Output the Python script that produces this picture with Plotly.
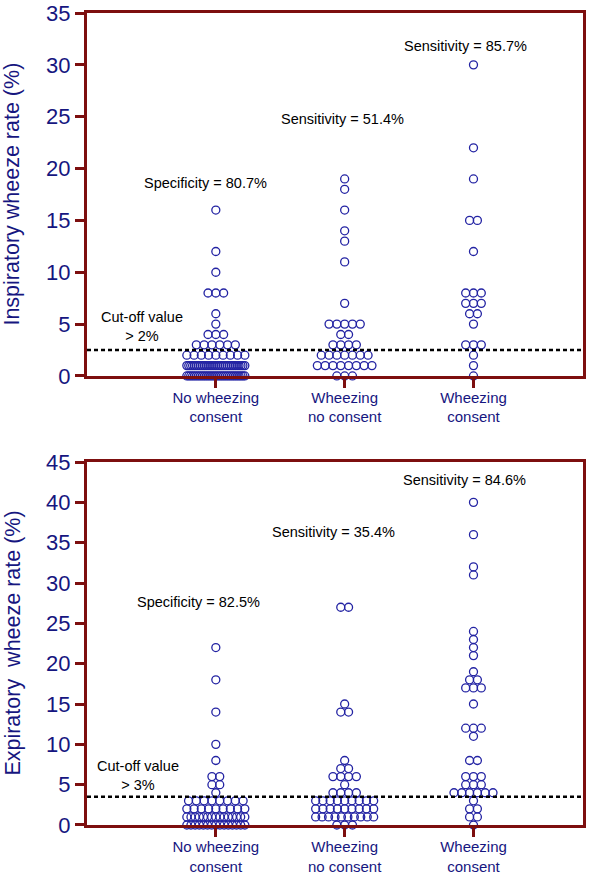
import plotly.graph_objects as go
from plotly.subplots import make_subplots

# categories
groups = ['No wheezing<br>consent', 'Wheezing<br>no consent', 'Wheezing<br>consent']

# inspiratory wheeze rate (%): distinct levels and how many dots sit on each
insp_levels_1 = [16, 12, 10, 8, 6, 5, 4, 3, 2, 1, 0]
insp_counts_1 = [1, 1, 1, 3, 1, 1, 3, 6, 9, 31, 31]
insp_levels_2 = [19, 18, 16, 14, 13, 11, 7, 5, 4, 3, 2, 1, 0]
insp_counts_2 = [1, 1, 1, 1, 1, 1, 1, 5, 2, 4, 7, 8, 3]
insp_levels_3 = [30, 22, 19, 15, 12, 8, 7, 6, 5, 3, 2, 1, 0]
insp_counts_3 = [1, 1, 1, 2, 1, 3, 3, 2, 1, 3, 1, 1, 1]

# expiratory wheeze rate (%)
exp_levels_1 = [22, 18, 14, 10, 8, 6, 5, 4, 3, 2, 1, 0]
exp_counts_1 = [1, 1, 1, 1, 1, 2, 2, 1, 8, 9, 15, 15]
exp_levels_2 = [27, 15, 14, 8, 7, 6, 5, 4, 3, 2, 1, 0]
exp_counts_2 = [2, 1, 2, 1, 2, 4, 1, 4, 9, 9, 10, 3]
exp_levels_3 = [40, 36, 32, 31, 24, 23, 22, 21, 19, 18, 17, 15, 12, 11, 8, 6, 5, 4, 3, 2, 1, 0]
exp_counts_3 = [1, 1, 1, 1, 1, 1, 1, 1, 1, 2, 3, 1, 3, 1, 2, 3, 3, 6, 1, 2, 2, 1]

insp_cutoff = 2.5
exp_cutoff = 3.5
insp_notes = ['Specificity = 80.7%', 'Sensitivity = 51.4%', 'Sensitivity = 85.7%']
exp_notes = ['Specificity = 82.5%', 'Sensitivity = 35.4%', 'Sensitivity = 84.6%']

AXIS = '#7d0f0f'
NAVY = '#16167f'
DOT = '#2323a3'
FONT = 'Liberation Sans, Arial, sans-serif'

X_RANGE = [0, 3.85]
PX_PER_UNIT = 496 / (X_RANGE[1] - X_RANGE[0])


def swarm(pos, levels, counts, step=7.8, spread=58):
    """ lays dots of equal value side by side, squeezing long rows """
    xs, ys = [], []
    for lev, n in zip(levels, counts):
        gap = step if n < 2 else min(step, spread / (n - 1))
        for i in range(n):
            xs.append(pos + (i - (n - 1) / 2) * gap / PX_PER_UNIT)
            ys.append(lev)
    return xs, ys


fig = make_subplots(rows=2, cols=1, vertical_spacing=0.106)

panels = [
    (1, [(insp_levels_1, insp_counts_1), (insp_levels_2, insp_counts_2), (insp_levels_3, insp_counts_3)]),
    (2, [(exp_levels_1, exp_counts_1), (exp_levels_2, exp_counts_2), (exp_levels_3, exp_counts_3)]),
]
for row, data in panels:
    for k, (lev, cnt) in enumerate(data):
        xs, ys = swarm(k + 1, lev, cnt)
        fig.add_trace(go.Scatter(x=xs, y=ys, mode='markers', showlegend=False, cliponaxis=False,
                                 marker=dict(symbol='circle-open', size=8, color=DOT,
                                             line=dict(width=1.3, color=DOT))),
                      row=row, col=1)

# cut-off lines
fig.add_trace(go.Scatter(x=X_RANGE, y=[insp_cutoff] * 2, mode='lines', showlegend=False,
                         line=dict(color='black', width=2.5, dash='4px,3px')), row=1, col=1)
fig.add_trace(go.Scatter(x=X_RANGE, y=[exp_cutoff] * 2, mode='lines', showlegend=False,
                         line=dict(color='black', width=2.5, dash='4px,3px')), row=2, col=1)

fig.update_xaxes(range=X_RANGE, tickvals=[1, 2, 3], ticktext=groups, automargin=False,
                 showline=True, linecolor=AXIS, linewidth=3, mirror=True,
                 ticks='outside', ticklen=9, tickwidth=3, tickcolor=AXIS,
                 showgrid=False, zeroline=False, ticklabelstandoff=-3,
                 tickfont=dict(size=15, color=NAVY, family=FONT))
fig.update_yaxes(showline=True, linecolor=AXIS, linewidth=3, mirror=True, automargin=False,
                 ticks='outside', ticklen=9, tickwidth=3, tickcolor=AXIS,
                 showgrid=False, zeroline=False, dtick=5,
                 tickfont=dict(size=22, color=NAVY, family=FONT))
fig.update_yaxes(range=[0, 35], row=1, col=1)
fig.update_yaxes(range=[0, 45], row=2, col=1)

# axis titles as rotated notes
title_font = dict(size=21.5, color=NAVY, family=FONT)
fig.add_annotation(x=-0.151, y=0.5, xref='paper', yref='y domain', text='Inspiratory wheeze rate (%)',
                   textangle=-90, showarrow=False, font=title_font, xanchor='center', yanchor='middle')
fig.add_annotation(x=-0.151, y=0.5, xref='paper', yref='y2 domain', text='Expiratory  wheeze rate (%)',
                   textangle=-90, showarrow=False, font=title_font, xanchor='center', yanchor='middle')

# text notes
note_font = dict(size=14.5, color='black', family=FONT)
insp_note_x = [0.916, 1.98, 2.94]
insp_note_y = [18.65, 24.8, 31.8]
exp_note_x = [0.862, 1.91, 2.93]
exp_note_y = [27.6, 36.3, 42.8]
for k in range(3):
    fig.add_annotation(x=insp_note_x[k], y=insp_note_y[k], text=insp_notes[k], showarrow=False,
                       font=note_font, xref='x', yref='y')
    fig.add_annotation(x=exp_note_x[k], y=exp_note_y[k], text=exp_notes[k], showarrow=False,
                       font=note_font, xref='x2', yref='y2')
fig.add_annotation(x=0.427, y=4.8, text='Cut-off value<br>> 2%', showarrow=False,
                   font=note_font, xref='x', yref='y')
fig.add_annotation(x=0.396, y=6.1, text='Cut-off value<br>> 3%', showarrow=False,
                   font=note_font, xref='x2', yref='y2')

fig.update_layout(width=600, height=883, plot_bgcolor='white', paper_bgcolor='white',
                  margin=dict(l=87, r=17, t=13, b=58),
                  font=dict(family=FONT))

# drop the browser's default body margin so the figure sits at the page corner
fig.write_html('out.html', config={'displayModeBar': False},
               post_script="document.body.style.margin='0';")
